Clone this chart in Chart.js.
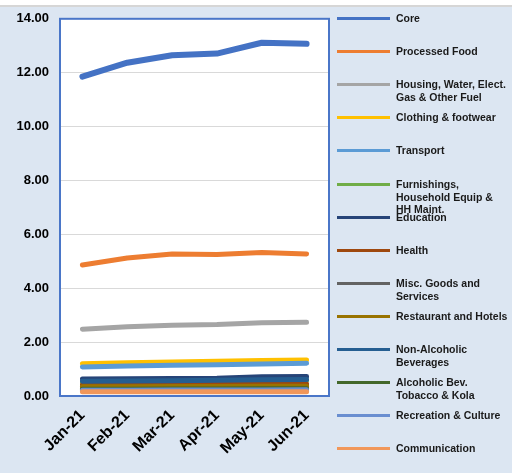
<!DOCTYPE html>
<html>
<head>
<meta charset="utf-8">
<script src="https://cdn.jsdelivr.net/npm/chart.js@4.4.1/dist/chart.umd.min.js"></script>
<style>
  html, body { margin: 0; padding: 0; }
  body { width: 512px; height: 473px; background: #dce6f2; position: relative; overflow: hidden; font-family: "Liberation Sans", Arial, sans-serif; }
  #topstrip { position: absolute; left: 0; top: 0; width: 512px; height: 5px; background: #fff; border-bottom: 2px solid #d6d6d6; }
  #wrap { position: absolute; left: 0; top: 0; width: 333px; height: 473px; }
  #legend { position: absolute; left: 0; top: 0; width: 512px; height: 473px; pointer-events: none; }
  .lg-line { position: absolute; left: 337px; width: 53px; height: 3px; }
  .lg-text { position: absolute; left: 396px; font-size: 10.5px; font-weight: bold; line-height: 12.5px; color: #1a1a1a; white-space: pre; }
</style>
</head>
<body>
<div id="topstrip"></div>
<div id="wrap"><canvas id="chart" width="333" height="473"></canvas></div>
<div id="legend"></div>
<script>
// categorias e séries
const meses = ['Jan-21', 'Feb-21', 'Mar-21', 'Apr-21', 'May-21', 'Jun-21'];
const rotulos = [
    'Core',
    'Processed Food',
    'Housing, Water, Elect.\nGas & Other Fuel',
    'Clothing & footwear',
    'Transport',
    'Furnishings,\nHousehold Equip &\nHH Maint.',
    'Education',
    'Health',
    'Misc. Goods and\nServices',
    'Restaurant and Hotels',
    'Non-Alcoholic\nBeverages',
    'Alcoholic Bev.\nTobacco & Kola',
    'Recreation & Culture',
    'Communication'
];
const cores = ['#4472C4', '#ED7D31', '#A5A5A5', '#FFC000', '#5B9BD5', '#70AD47', '#264478',
               '#9E480E', '#636363', '#997300', '#255E91', '#43682B', '#698ED0', '#F1975A'];

const core          = [11.85, 12.37, 12.65, 12.71, 13.11, 13.07];
const processedFood = [4.86, 5.12, 5.27, 5.25, 5.33, 5.27];
const housing       = [2.48, 2.57, 2.63, 2.65, 2.72, 2.74];
const clothing      = [1.20, 1.23, 1.26, 1.29, 1.32, 1.34];
const transport     = [1.08, 1.11, 1.14, 1.16, 1.19, 1.22];
const furnishings   = [0.49, 0.50, 0.51, 0.53, 0.56, 0.58];
const education     = [0.63, 0.64, 0.65, 0.66, 0.71, 0.72];
const health        = [0.41, 0.42, 0.42, 0.43, 0.44, 0.45];
const misc          = [0.29, 0.29, 0.30, 0.30, 0.30, 0.31];
const restaurant    = [0.34, 0.34, 0.35, 0.35, 0.36, 0.36];
const nonAlcoholic  = [0.55, 0.56, 0.57, 0.58, 0.60, 0.61];
const alcoholic     = [0.25, 0.25, 0.26, 0.26, 0.27, 0.27];
const recreation    = [0.21, 0.21, 0.22, 0.22, 0.22, 0.23];
const communication = [0.16, 0.16, 0.16, 0.16, 0.16, 0.16];

const series = [core, processedFood, housing, clothing, transport, furnishings, education,
                health, misc, restaurant, nonAlcoholic, alcoholic, recreation, communication];

const yTicks = [0, 2, 4, 6, 8, 10, 12, 14];

// fundo branco e moldura azul da área de plotagem
const molduraPlugin = {
    id: 'moldura',
    beforeDraw(chart) {
        const { ctx, chartArea: a } = chart;
        ctx.save();
        ctx.fillStyle = '#ffffff';
        ctx.fillRect(a.left, a.top, a.right - a.left, a.bottom - a.top);
        ctx.restore();
    },
    afterDraw(chart) {
        const { ctx, chartArea: a } = chart;
        ctx.save();
        ctx.strokeStyle = '#4a76c8';
        ctx.lineWidth = 2;
        ctx.strokeRect(a.left, a.top, a.right - a.left, a.bottom - a.top);
        ctx.restore();
    }
};

const datasets = series.map((dados, i) => ({
    label: rotulos[i].replace(/\n/g, ' '),
    data: dados,
    borderColor: cores[i],
    backgroundColor: cores[i],
    borderWidth: i === 0 ? 6 : 5,
    borderCapStyle: 'round',
    borderJoinStyle: 'round',
    pointRadius: 0,
    tension: 0,
    order: series.length - i   // últimas séries por cima, como no Excel
}));

new Chart(document.getElementById('chart'), {
    type: 'line',
    data: { labels: meses, datasets },
    options: {
        responsive: false,
        animation: false,
        layout: { padding: { top: 17, right: 4, left: 0, bottom: 0 } },
        plugins: { legend: { display: false }, tooltip: { enabled: false } },
        scales: {
            x: {
                offset: true,
                grid: { display: false, drawTicks: false },
                border: { display: false },
                ticks: {
                    minRotation: 45, maxRotation: 45, padding: 10,
                    color: '#000',
                    font: { family: 'Liberation Sans', size: 16, weight: 'bold' }
                },
                afterFit(scale) { scale.height = 77; }
            },
            y: {
                min: 0, max: 14,
                afterBuildTicks(scale) { scale.ticks = yTicks.map(v => ({ value: v })); },
                grid: { color: '#d9d9d9', lineWidth: 1, drawTicks: false },
                border: { display: false },
                ticks: {
                    padding: 11,
                    color: '#000',
                    font: { family: 'Liberation Sans', size: 13, weight: 'bold' },
                    callback: v => v.toFixed(2)
                },
                afterFit(scale) { scale.width = 60; }
            }
        }
    },
    plugins: [molduraPlugin]
});

// legenda em HTML montada a partir dos mesmos arrays
const legenda = document.getElementById('legend');
rotulos.forEach((txt, i) => {
    const yc = Math.round(18 + i * 33.1);
    const linha = document.createElement('div');
    linha.className = 'lg-line';
    linha.style.top = (yc - 1) + 'px';
    linha.style.background = cores[i];
    legenda.appendChild(linha);

    const texto = document.createElement('div');
    texto.className = 'lg-text';
    texto.style.top = (yc - 6) + 'px';
    texto.textContent = txt;
    legenda.appendChild(texto);
});
</script>
</body>
</html>
